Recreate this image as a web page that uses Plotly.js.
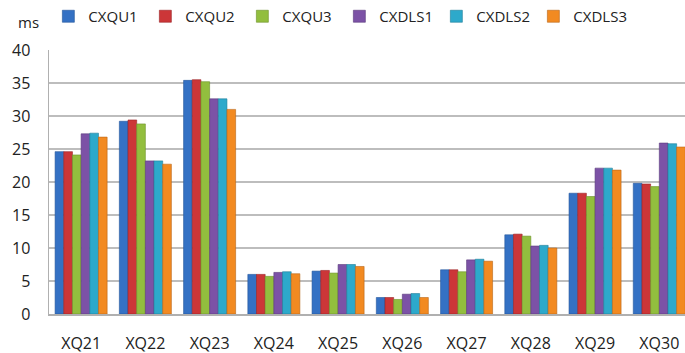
<!DOCTYPE html>
<html>
<head>
<meta charset="utf-8">
<script src="https://cdn.plot.ly/plotly-3.0.1.min.js"></script>
<style>html,body{margin:0;padding:0;background:#fff;}#chart{width:685px;height:353px;}</style>
</head>
<body>
<div id="chart"></div>
<script>
const categories = ["XQ21","XQ22","XQ23","XQ24","XQ25","XQ26","XQ27","XQ28","XQ29","XQ30"];
const seriesNames = ["CXQU1","CXQU2","CXQU3","CXDLS1","CXDLS2","CXDLS3"];
const CXQU1  = [24.6, 29.2, 35.4, 6.0, 6.5, 2.5, 6.7, 12.0, 18.3, 19.8];
const CXQU2  = [24.6, 29.4, 35.5, 6.0, 6.6, 2.5, 6.7, 12.1, 18.3, 19.7];
const CXQU3  = [24.1, 28.8, 35.2, 5.7, 6.2, 2.2, 6.4, 11.8, 17.8, 19.3];
const CXDLS1 = [27.3, 23.2, 32.6, 6.3, 7.5, 3.0, 8.2, 10.3, 22.1, 25.9];
const CXDLS2 = [27.4, 23.2, 32.6, 6.4, 7.5, 3.1, 8.3, 10.4, 22.1, 25.8];
const CXDLS3 = [26.8, 22.7, 31.0, 6.1, 7.2, 2.5, 8.0, 10.0, 21.8, 25.3];
const yTicks = [0,5,10,15,20,25,30,35,40];

const seriesValues = [CXQU1, CXQU2, CXQU3, CXDLS1, CXDLS2, CXDLS3];
const colors = ["#3471C4","#CC3638","#92BE3E","#7C52A6","#2DA9CB","#F28A21"];
const edges  = ["#24559A","#9A2426","#6C9028","#5A3A7C","#1F7E99","#B8661A"];

const traces = seriesNames.map((name, i) => ({
  type: "bar",
  name: name,
  x: categories,
  y: seriesValues[i],
  marker: {color: colors[i], line: {color: edges[i], width: 0.6}},
  hoverinfo: "x+y+name"
}));

const font = {family: "Open Sans, Liberation Sans, sans-serif", size: 16, color: "#222"};

const layout = {
  width: 685, height: 353,
  margin: {l: 49, r: 0, t: 49, b: 39},
  paper_bgcolor: "#fff", plot_bgcolor: "#fff",
  font: font,
  barmode: "group",
  bargap: 0.19,
  bargroupgap: 0,
  showlegend: true,
  legend: {
    orientation: "h",
    x: -0.001, y: 1.065, xanchor: "left", yanchor: "bottom",
    yref: "paper",
    font: {family: font.family, size: 15, color: "#222"},
    itemwidth: 30,
    entrywidth: 52,
    traceorder: "normal",
    bgcolor: "rgba(0,0,0,0)"
  },
  xaxis: {
    type: "category",
    range: [-0.5, 9.4],
    showgrid: false,
    showline: true, linecolor: "#B0B0B0", linewidth: 1.5,
    ticks: "", ticklabelstandoff: 14,
    tickfont: {family: font.family, size: 16, color: "#222"},
    fixedrange: true
  },
  yaxis: {
    range: [0, 40],
    tickvals: yTicks,
    ticktext: yTicks.map(String),
    showgrid: true, gridcolor: "#BDBDBD", gridwidth: 1.5,
    showline: true, linecolor: "#B0B0B0", linewidth: 1.5,
    zeroline: false,
    ticks: "", ticklabelstandoff: 14,
    tickfont: {family: font.family, size: 16, color: "#222"},
    fixedrange: true
  },
  annotations: [{
    text: "ms", xref: "paper", yref: "paper",
    x: -0.0, y: 1.0, xanchor: "right", yanchor: "bottom",
    xshift: -8, yshift: 16, showarrow: false,
    font: {family: font.family, size: 15, color: "#222"}
  }]
};

Plotly.newPlot("chart", traces, layout, {displayModeBar: false, staticPlot: true});
</script>
</body>
</html>
